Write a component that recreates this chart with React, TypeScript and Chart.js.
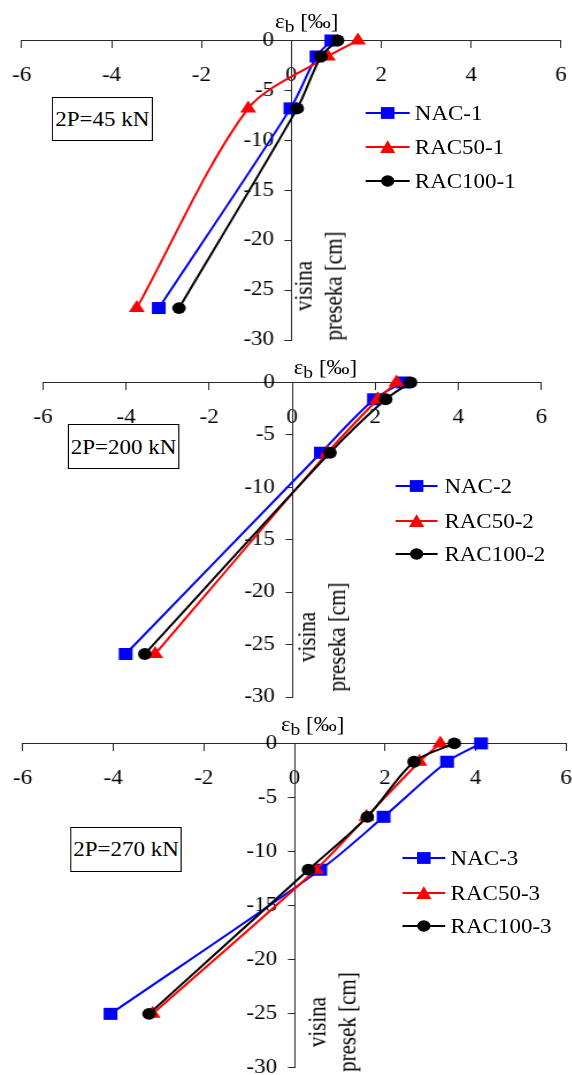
import React, { useEffect, useRef } from 'react';
import { Chart, registerables } from 'chart.js';

Chart.register(...registerables);

// ---------- data ----------
const X_TICKS = [-6, -4, -2, 0, 2, 4, 6];
const Y_TICKS = [0, -5, -10, -15, -20, -25, -30];

const loads = ['2P=45 kN', '2P=200 kN', '2P=270 kN'];
const yTitles = [['visina', 'preseka [cm]'], ['visina', 'preseka [cm]'], ['visina', 'presek [cm]']];

// panel 1 (2P=45 kN)
const names1 = ['NAC-1', 'RAC50-1', 'RAC100-1'];
const depth1 = [0, -1.6, -6.8, -26.8];
const nac1 = [0.89, 0.56, -0.02, -2.95];
const rac50_1 = [1.48, 0.81, -0.96, -3.44];
const rac100_1 = [1.03, 0.66, 0.13, -2.5];

// panel 2 (2P=200 kN)
const names2 = ['NAC-2', 'RAC50-2', 'RAC100-2'];
const depth2 = [0, -1.6, -6.7, -25.9];
const nac2 = [2.67, 1.97, 0.69, -4.01];
const rac50_2 = [2.51, 2.06, 0.85, -3.3];
const rac100_2 = [2.85, 2.25, 0.91, -3.55];

// panel 3 (2P=270 kN)
const names3 = ['NAC-3', 'RAC50-3', 'RAC100-3'];
const depth3 = [0, -1.7, -6.8, -11.7, -25.05];
const nac3 = [4.12, 3.37, 1.97, 0.57, -4.06];
const rac50_3 = [3.22, 2.76, 1.59, 0.47, -3.13];
const rac100_3 = [3.53, 2.64, 1.61, 0.31, -3.21];

// ---------- styling / layout ----------
const S = 1.15; // horizontal stretch of the reference image
const PAGE_W = 572;
const PAGE_H = 1075;
const INNER_W = Math.ceil(PAGE_W / S);
const FONT = "'Liberation Serif', 'Times New Roman', serif";
const AXIS_COLOR = '#2a2a2a';
const Y_LABEL_GAP = '   ';

type Shape = 'rect' | 'triangle' | 'circle';
const SERIES_STYLE: { color: string; shape: Shape; radius: number }[] = [
  { color: '#0000FF', shape: 'rect', radius: 8.5 },
  { color: '#FF0000', shape: 'triangle', radius: 8 },
  { color: '#000000', shape: 'circle', radius: 5.9 },
];

type PanelDef = {
  top: number;
  height: number;
  area: { l: number; r: number; t: number; b: number };
  depth: number[];
  names: string[];
  values: number[][];
  load: string;
  box: { x: number; y: number; w: number; h: number };
  title: { x: number; base: number };
  legend: { x0: number; x1: number; tx: number; rows: number[] };
  yTitle: { cx: number; cy: number; lines: string[] };
};

const PANELS: PanelDef[] = [
  {
    top: 0, height: 355,
    area: { l: 21.7, r: 561, t: 40.5, b: 340 },
    depth: depth1, names: names1, values: [nac1, rac50_1, rac100_1], load: loads[0],
    box: { x: 52.3, y: 96.7, w: 100.2, h: 44 },
    title: { x: 275, base: 28 },
    legend: { x0: 365.5, x1: 409.5, tx: 414.8, rows: [113.3, 147, 181] },
    yTitle: { cx: 318.5, cy: 285.5, lines: yTitles[0] },
  },
  {
    top: 355, height: 355,
    area: { l: 43, r: 541.4, t: 382.5, b: 697 },
    depth: depth2, names: names2, values: [nac2, rac50_2, rac100_2], load: loads[1],
    box: { x: 67.5, y: 424.3, w: 112, h: 44.7 },
    title: { x: 293.7, base: 373.5 },
    legend: { x0: 395.8, x1: 437.8, tx: 444.4, rows: [486, 520.7, 554] },
    yTitle: { cx: 322, cy: 636.5, lines: yTitles[1] },
  },
  {
    top: 710, height: 365,
    area: { l: 22.6, r: 566.2, t: 743.4, b: 1067.3 },
    depth: depth3, names: names3, values: [nac3, rac50_3, rac100_3], load: loads[2],
    box: { x: 70.4, y: 827.3, w: 111.3, h: 44.4 },
    title: { x: 280.9, base: 730.5 },
    legend: { x0: 402.4, x1: 445.1, tx: 450.6, rows: [858.3, 892.7, 926] },
    yTitle: { cx: 332, cy: 1021.5, lines: yTitles[2] },
  },
];

function Marker({ shape, color, cx, cy }: { shape: Shape; color: string; cx: number; cy: number }) {
  if (shape === 'rect') return <rect x={cx - 5.9} y={cy - 5.9} width={11.8} height={11.8} fill={color} />;
  if (shape === 'triangle')
    return <polygon points={`${cx},${cy - 6.8} ${cx + 6.6},${cy + 6} ${cx - 6.6},${cy + 6}`} fill={color} />;
  return <circle cx={cx} cy={cy} r={5.8} fill={color} />;
}

const zeroPadding = (sc: any) => {
  sc.paddingLeft = 0;
  sc.paddingRight = 0;
  sc.paddingTop = 0;
  sc.paddingBottom = 0;
};

function Panel({ p }: { p: PanelDef }) {
  const ref = useRef<HTMLCanvasElement>(null);

  useEffect(() => {
    const canvas = ref.current;
    if (!canvas) return;
    const datasets = p.names.map((name, i) => ({
      label: name,
      data: p.values[i].map((v, j) => ({ x: v, y: p.depth[j] })),
      showLine: true,
      borderColor: SERIES_STYLE[i].color,
      backgroundColor: SERIES_STYLE[i].color,
      borderWidth: 2,
      pointStyle: SERIES_STYLE[i].shape,
      pointRadius: SERIES_STYLE[i].radius,
      pointHoverRadius: SERIES_STYLE[i].radius,
      pointBorderWidth: 0,
      tension: 0.3,
      clip: false as any,
      order: 3 - i,
    }));
    const tickFont = { family: FONT, size: 20 };
    const chart = new Chart(canvas, {
      type: 'scatter',
      data: { datasets },
      options: {
        responsive: false,
        maintainAspectRatio: false,
        animation: false,
        devicePixelRatio: 1,
        events: [],
        layout: {
          autoPadding: false,
          padding: {
            left: p.area.l / S,
            right: INNER_W - p.area.r / S,
            top: p.area.t - p.top,
            bottom: p.top + p.height - p.area.b,
          },
        },
        plugins: { legend: { display: false }, tooltip: { enabled: false } },
        scales: {
          x: {
            type: 'linear',
            min: X_TICKS[0],
            max: X_TICKS[X_TICKS.length - 1],
            position: { y: 0 } as any,
            afterBuildTicks: (sc: any) => {
              sc.ticks = X_TICKS.map((v) => ({ value: v }));
            },
            afterFit: zeroPadding,
            ticks: { color: '#000', font: tickFont, padding: 16, maxRotation: 0, autoSkip: false },
            grid: { drawOnChartArea: false, drawTicks: true, tickLength: 7, color: AXIS_COLOR, lineWidth: 1 },
            border: { display: true, color: AXIS_COLOR, width: 1 },
          },
          y: {
            type: 'linear',
            min: Y_TICKS[Y_TICKS.length - 1],
            max: Y_TICKS[0],
            position: { x: 0 } as any,
            afterBuildTicks: (sc: any) => {
              sc.ticks = Y_TICKS.map((v) => ({ value: v }));
            },
            afterFit: zeroPadding,
            ticks: {
              color: '#000',
              font: tickFont,
              padding: 9,
              autoSkip: false,
              callback: (v: any) => `${v}${Y_LABEL_GAP}`,
            },
            grid: { drawOnChartArea: false, drawTicks: true, tickLength: 5.7, color: AXIS_COLOR, lineWidth: 1 },
            border: { display: true, color: AXIS_COLOR, width: 1 },
          },
        },
      } as any,
    });
    return () => chart.destroy();
  }, [p]);

  const textStyle: React.CSSProperties = {
    fontFamily: FONT,
    fontSize: 20,
    lineHeight: '24px',
    color: '#000',
    whiteSpace: 'nowrap',
  };
  const lg = p.legend;
  const lineLen = (lg.x1 - lg.x0) / S;

  return (
    <>
      <canvas
        ref={ref}
        width={INNER_W}
        height={p.height}
        style={{ position: 'absolute', left: 0, top: p.top, width: INNER_W, height: p.height, display: 'block' }}
      />
      {/* axis title */}
      <div style={{ ...textStyle, position: 'absolute', left: p.title.x / S, top: p.title.base - 18.8 }}>
        <span>ε</span>
        <span style={{ fontSize: 17, position: 'relative', top: 4 }}>b</span>
        <span> [‰]</span>
      </div>
      {/* load box */}
      <div
        style={{
          ...textStyle,
          position: 'absolute',
          left: p.box.x / S,
          top: p.box.y,
          width: p.box.w / S,
          height: p.box.h,
          border: '1px solid #000',
          boxSizing: 'border-box',
          display: 'flex',
          alignItems: 'center',
          justifyContent: 'center',
          background: '#fff',
        }}
      >
        {p.load}
      </div>
      {/* legend */}
      {p.names.map((name, i) => (
        <React.Fragment key={name}>
          <svg
            width={lineLen}
            height={24}
            style={{ position: 'absolute', left: lg.x0 / S, top: lg.rows[i] - 12, overflow: 'visible' }}
          >
            <line x1={0} y1={12} x2={lineLen} y2={12} stroke={SERIES_STYLE[i].color} strokeWidth={2} />
            <Marker shape={SERIES_STYLE[i].shape} color={SERIES_STYLE[i].color} cx={lineLen / 2} cy={12} />
          </svg>
          <div style={{ ...textStyle, position: 'absolute', left: lg.tx / S, top: lg.rows[i] - 12 }}>{name}</div>
        </React.Fragment>
      ))}
      {/* y axis title (rotated, two lines) */}
      <div
        style={{
          ...textStyle,
          fontSize: 21,
          lineHeight: '26px',
          position: 'absolute',
          left: p.yTitle.cx / S,
          top: p.yTitle.cy,
          transform: 'translate(-50%, -50%) rotate(-90deg)',
          textAlign: 'center',
        }}
      >
        {p.yTitle.lines.map((l) => (
          <div key={l}>{l}</div>
        ))}
      </div>
    </>
  );
}

export default function App() {
  return (
    <div
      style={{
        position: 'absolute',
        left: 0,
        top: 0,
        width: PAGE_W,
        height: PAGE_H,
        overflow: 'hidden',
        background: '#fff',
      }}
    >
      <div
        style={{
          position: 'absolute',
          left: 0,
          top: 0,
          width: INNER_W,
          height: PAGE_H,
          transform: `scaleX(${S})`,
          transformOrigin: '0 0',
        }}
      >
        {PANELS.map((p, i) => (
          <Panel key={i} p={p} />
        ))}
      </div>
    </div>
  );
}
